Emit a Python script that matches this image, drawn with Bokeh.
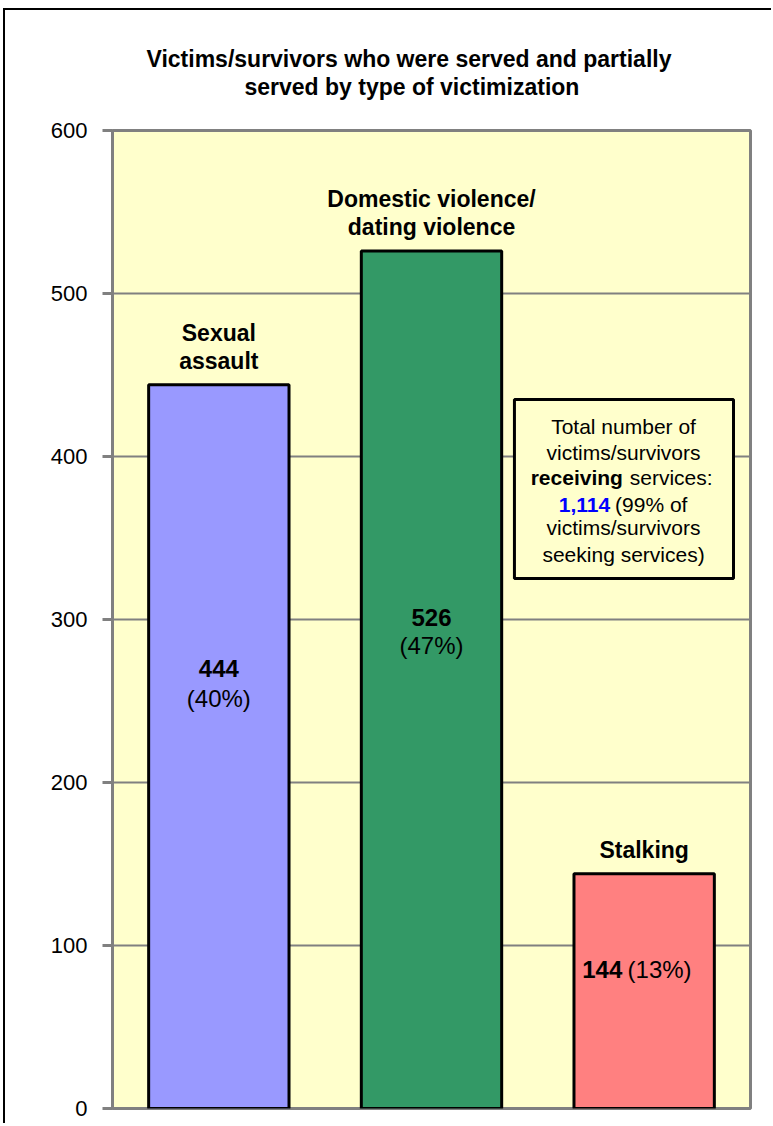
from bokeh.plotting import figure
from bokeh.models import Range1d, SingleIntervalTicker, Label, BoxAnnotation, ColumnDataSource, Title
from bokeh.core.properties import value
from bokeh.embed import file_html
from bokeh.resources import INLINE

# ---------------- data ----------------
title_lines = ["Victims/survivors who were served and partially",
               "served by type of victimization"]
categories = ["Sexual assault", "Domestic violence/ dating violence", "Stalking"]
category_lines = [["Sexual", "assault"], ["Domestic violence/", "dating violence"], ["Stalking"]]
counts = [444, 526, 144]
count_labels = ["444", "526", "144"]
percent_labels = ["(40%)", "(47%)", "(13%)"]
bar_colors = ["#9999FF", "#339966", "#FF8080"]
y_ticks = [0, 100, 200, 300, 400, 500, 600]
total_served = "1,114"
box_lines_before = ["Total number of", "victims/survivors"]
box_bold_word = "receiving"
box_rest_word = "services:"
box_total_rest = "(99% of"
box_lines_after = ["victims/survivors", "seeking services)"]

FONT = "Liberation Sans"
GRAY = "#808080"

# ---------------- figure ----------------
W, H = 768, 1115
p = figure(width=W, height=H, output_backend="svg", toolbar_location=None,
           x_range=Range1d(0, len(categories)), y_range=Range1d(y_ticks[0], y_ticks[-1]),
           min_border_left=107, min_border_right=23, min_border_top=120, min_border_bottom=17)
p.styles = {"border-left": "2px solid black", "border-top": "2px solid black",
            "margin-left": "3px", "margin-top": "8px"}
p.background_fill_color = "#FFFFCC"
p.border_fill_color = "white"
p.outline_line_color = GRAY
p.outline_line_width = 3
p.xaxis.visible = False
p.xgrid.visible = False
p.ygrid.grid_line_color = GRAY
p.ygrid.grid_line_width = 2
p.yaxis.ticker = SingleIntervalTicker(interval=100)
p.yaxis.axis_line_color = GRAY
p.yaxis.axis_line_width = 3
p.yaxis.major_tick_line_color = GRAY
p.yaxis.major_tick_line_width = 3
p.yaxis.major_tick_out = 10
p.yaxis.major_tick_in = 0
p.yaxis.minor_tick_line_color = None
p.yaxis.major_label_text_font = FONT
p.yaxis.major_label_text_font_size = "22px"
p.yaxis.major_label_text_color = "black"
p.yaxis.major_label_standoff = 15

# title: stacked above the plot area (first added = closest to frame)
p.add_layout(Title(text=" ", text_font_size="1px", standoff=27.5), "above")  # spacer
p.add_layout(Title(text=title_lines[1], align="left", offset=132, standoff=0,
                   text_font=FONT, text_font_size="23px", text_font_style="bold",
                   text_color="black"), "above")
p.add_layout(Title(text=title_lines[0], align="left", offset=34, standoff=0,
                   text_font=FONT, text_font_size="23px", text_font_style="bold",
                   text_color="black"), "above")

xs = [i + 0.5 for i in range(len(categories))]
src = ColumnDataSource(dict(x=xs, top=counts, color=bar_colors, cat=categories))
p.vbar(x="x", top="top", bottom=0, width=0.66, fill_color="color",
       line_color="black", line_width=3, source=src)

# category labels above bars
cx, cy, ct = [], [], []
for i, lines in enumerate(category_lines):
    n = len(lines)
    for j, t in enumerate(lines):
        cx.append(xs[i])
        cy.append(counts[i] + 14.5 + 17.2 * (n - 1 - j))
        ct.append(t)
p.text(x=cx, y=cy, text=ct, text_font=value(FONT), text_font_size="23px",
       text_font_style="bold", text_align="center", text_baseline="middle", text_color="black")

# value labels inside bars
count_y = [270.0, 301.0]
pct_y = [251.5, 283.8]
p.text(x=xs[:2], y=count_y, text=count_labels[:2], text_font=value(FONT), text_font_size="24px",
       text_font_style="bold", text_align="center", text_baseline="middle", text_color="black")
p.text(x=xs[:2], y=pct_y, text=percent_labels[:2], text_font=value(FONT), text_font_size="24px",
       text_align="center", text_baseline="middle", text_color="black")
p.text(x=[2.397], y=[85.3], text=[count_labels[2]], text_font=value(FONT), text_font_size="24px",
       text_font_style="bold", text_align="right", text_baseline="middle", text_color="black")
p.text(x=[2.422], y=[85.3], text=[percent_labels[2]], text_font=value(FONT), text_font_size="24px",
       text_align="left", text_baseline="middle", text_color="black")

# text box
p.add_layout(BoxAnnotation(left=1.89, right=2.92, bottom=325.2, top=435.0,
                           fill_color="#FFFFCC", fill_alpha=1.0,
                           line_color="black", line_alpha=1.0, line_width=3, level="annotation"))
bx = 2.403
def lab(x, y, t, bold=False, align="center", color="black"):
    p.add_layout(Label(x=x, y=y, text=t, text_font=FONT, text_font_size="21px",
                       text_font_style="bold" if bold else "normal", text_align=align,
                       text_baseline="middle", text_color=color))
lab(bx, 418.3, box_lines_before[0])
lab(bx, 402.3, box_lines_before[1])
lab(2.400, 387.0, box_bold_word, bold=True, align="right")
lab(2.432, 387.0, box_rest_word, align="left")
lab(2.340, 370.4, total_served, bold=True, align="right", color="#0000FF")
lab(2.363, 370.4, box_total_rest, align="left")
lab(bx, 356.3, box_lines_after[0])
lab(bx, 339.8, box_lines_after[1])

open("out.html", "w").write(file_html(p, INLINE))
